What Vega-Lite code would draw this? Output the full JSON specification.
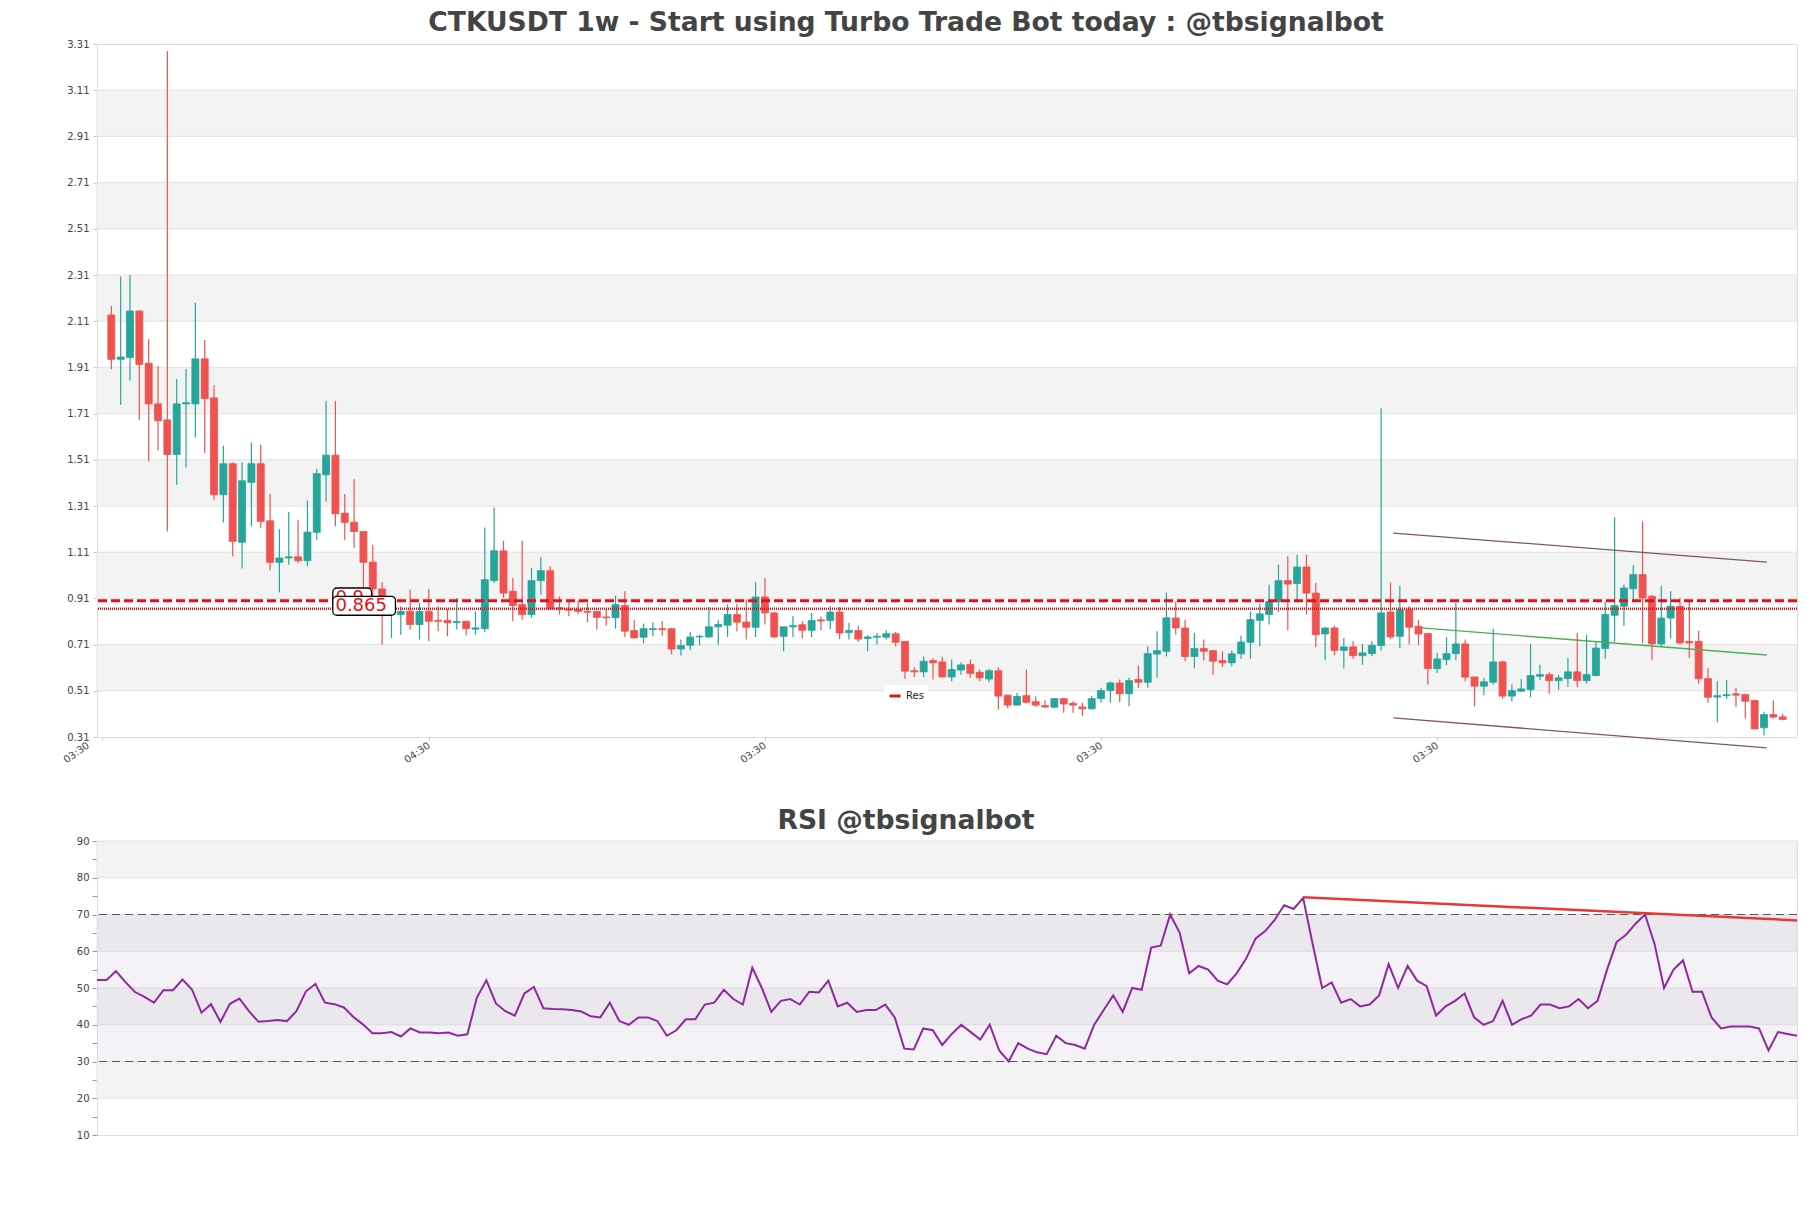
{
  "$schema": "https://vega.github.io/schema/vega-lite/v6.json",
  "background": "white",
  "padding": {"left": 60, "top": 9, "right": 14, "bottom": 5},
  "bounds": "flush",
  "spacing": 104,
  "config": {
    "view": {"stroke": "#dddddd", "strokeWidth": 1},
    "axis": {"labelFont": "DejaVu Sans", "labelColor": "#444444", "domain": false, "grid": false}
  },
  "datasets": {
    "candles": [
      {"i":0,"o":2.137,"h":2.176,"l":1.902,"c":1.945},
      {"i":1,"o":1.945,"h":2.303,"l":1.748,"c":1.955},
      {"i":2,"o":1.953,"h":2.31,"l":1.853,"c":2.154},
      {"i":3,"o":2.154,"h":2.158,"l":1.683,"c":1.922},
      {"i":4,"o":1.928,"h":2.032,"l":1.503,"c":1.752},
      {"i":5,"o":1.752,"h":1.916,"l":1.55,"c":1.679},
      {"i":6,"o":1.683,"h":3.279,"l":1.2,"c":1.533},
      {"i":7,"o":1.533,"h":1.86,"l":1.402,"c":1.752},
      {"i":8,"o":1.752,"h":1.903,"l":1.477,"c":1.757},
      {"i":9,"o":1.752,"h":2.19,"l":1.607,"c":1.947},
      {"i":10,"o":1.947,"h":2.029,"l":1.539,"c":1.775},
      {"i":11,"o":1.778,"h":1.834,"l":1.337,"c":1.359},
      {"i":12,"o":1.359,"h":1.571,"l":1.239,"c":1.493},
      {"i":13,"o":1.493,"h":1.498,"l":1.092,"c":1.157},
      {"i":14,"o":1.153,"h":1.498,"l":1.039,"c":1.419},
      {"i":15,"o":1.412,"h":1.585,"l":1.222,"c":1.493},
      {"i":16,"o":1.493,"h":1.575,"l":1.214,"c":1.243},
      {"i":17,"o":1.246,"h":1.362,"l":1.031,"c":1.066},
      {"i":18,"o":1.066,"h":1.21,"l":0.936,"c":1.085},
      {"i":19,"o":1.085,"h":1.284,"l":1.056,"c":1.09},
      {"i":20,"o":1.09,"h":1.251,"l":1.063,"c":1.073},
      {"i":21,"o":1.073,"h":1.333,"l":1.049,"c":1.197},
      {"i":22,"o":1.196,"h":1.471,"l":1.164,"c":1.45},
      {"i":23,"o":1.445,"h":1.765,"l":1.33,"c":1.53},
      {"i":24,"o":1.53,"h":1.765,"l":1.222,"c":1.276},
      {"i":25,"o":1.279,"h":1.362,"l":1.164,"c":1.239},
      {"i":26,"o":1.24,"h":1.426,"l":1.128,"c":1.2},
      {"i":27,"o":1.2,"h":1.2,"l":0.948,"c":1.066},
      {"i":28,"o":1.067,"h":1.142,"l":0.919,"c":0.951},
      {"i":29,"o":0.951,"h":0.981,"l":0.71,"c":0.835},
      {"i":30,"o":0.84,"h":0.876,"l":0.739,"c":0.847},
      {"i":31,"o":0.84,"h":0.876,"l":0.753,"c":0.854},
      {"i":32,"o":0.854,"h":0.948,"l":0.775,"c":0.797},
      {"i":33,"o":0.797,"h":0.89,"l":0.732,"c":0.854},
      {"i":34,"o":0.854,"h":0.951,"l":0.725,"c":0.811},
      {"i":35,"o":0.815,"h":0.876,"l":0.768,"c":0.811},
      {"i":36,"o":0.814,"h":0.864,"l":0.746,"c":0.804},
      {"i":37,"o":0.805,"h":0.912,"l":0.775,"c":0.81},
      {"i":38,"o":0.811,"h":0.811,"l":0.749,"c":0.779},
      {"i":39,"o":0.777,"h":0.854,"l":0.753,"c":0.782},
      {"i":40,"o":0.779,"h":1.217,"l":0.763,"c":0.991},
      {"i":41,"o":0.987,"h":1.304,"l":0.977,"c":1.116},
      {"i":42,"o":1.116,"h":1.16,"l":0.912,"c":0.933},
      {"i":43,"o":0.941,"h":0.998,"l":0.811,"c":0.879},
      {"i":44,"o":0.883,"h":1.16,"l":0.818,"c":0.84},
      {"i":45,"o":0.84,"h":1.042,"l":0.826,"c":0.987},
      {"i":46,"o":0.987,"h":1.089,"l":0.926,"c":1.03},
      {"i":47,"o":1.03,"h":1.049,"l":0.862,"c":0.864},
      {"i":48,"o":0.869,"h":0.919,"l":0.84,"c":0.864},
      {"i":49,"o":0.864,"h":0.905,"l":0.833,"c":0.859},
      {"i":50,"o":0.862,"h":0.902,"l":0.844,"c":0.854},
      {"i":51,"o":0.854,"h":0.89,"l":0.807,"c":0.85},
      {"i":52,"o":0.854,"h":0.854,"l":0.775,"c":0.828},
      {"i":53,"o":0.83,"h":0.864,"l":0.792,"c":0.826},
      {"i":54,"o":0.826,"h":0.922,"l":0.779,"c":0.883},
      {"i":55,"o":0.879,"h":0.941,"l":0.743,"c":0.768},
      {"i":56,"o":0.771,"h":0.818,"l":0.739,"c":0.739},
      {"i":57,"o":0.742,"h":0.801,"l":0.715,"c":0.779},
      {"i":58,"o":0.775,"h":0.807,"l":0.746,"c":0.779},
      {"i":59,"o":0.779,"h":0.811,"l":0.746,"c":0.775},
      {"i":60,"o":0.779,"h":0.782,"l":0.667,"c":0.691},
      {"i":61,"o":0.691,"h":0.732,"l":0.663,"c":0.706},
      {"i":62,"o":0.707,"h":0.764,"l":0.686,"c":0.743},
      {"i":63,"o":0.743,"h":0.753,"l":0.706,"c":0.746},
      {"i":64,"o":0.743,"h":0.873,"l":0.74,"c":0.787},
      {"i":65,"o":0.787,"h":0.818,"l":0.707,"c":0.797},
      {"i":66,"o":0.794,"h":0.883,"l":0.743,"c":0.84},
      {"i":67,"o":0.84,"h":0.887,"l":0.768,"c":0.807},
      {"i":68,"o":0.808,"h":0.905,"l":0.732,"c":0.785},
      {"i":69,"o":0.785,"h":0.981,"l":0.743,"c":0.916},
      {"i":70,"o":0.916,"h":0.998,"l":0.797,"c":0.847},
      {"i":71,"o":0.847,"h":0.851,"l":0.739,"c":0.743},
      {"i":72,"o":0.746,"h":0.787,"l":0.681,"c":0.787},
      {"i":73,"o":0.787,"h":0.833,"l":0.743,"c":0.792},
      {"i":74,"o":0.796,"h":0.811,"l":0.736,"c":0.772},
      {"i":75,"o":0.772,"h":0.847,"l":0.743,"c":0.814},
      {"i":76,"o":0.817,"h":0.832,"l":0.772,"c":0.812},
      {"i":77,"o":0.814,"h":0.876,"l":0.778,"c":0.851},
      {"i":78,"o":0.851,"h":0.873,"l":0.734,"c":0.76},
      {"i":79,"o":0.762,"h":0.804,"l":0.732,"c":0.771},
      {"i":80,"o":0.771,"h":0.792,"l":0.721,"c":0.734},
      {"i":81,"o":0.736,"h":0.749,"l":0.681,"c":0.743},
      {"i":82,"o":0.742,"h":0.76,"l":0.71,"c":0.746},
      {"i":83,"o":0.742,"h":0.771,"l":0.732,"c":0.757},
      {"i":84,"o":0.757,"h":0.765,"l":0.703,"c":0.72},
      {"i":85,"o":0.724,"h":0.724,"l":0.561,"c":0.595},
      {"i":86,"o":0.597,"h":0.612,"l":0.57,"c":0.592},
      {"i":87,"o":0.592,"h":0.659,"l":0.57,"c":0.638},
      {"i":88,"o":0.641,"h":0.652,"l":0.559,"c":0.631},
      {"i":89,"o":0.635,"h":0.657,"l":0.566,"c":0.57},
      {"i":90,"o":0.57,"h":0.645,"l":0.551,"c":0.602},
      {"i":91,"o":0.6,"h":0.634,"l":0.58,"c":0.622},
      {"i":92,"o":0.624,"h":0.645,"l":0.566,"c":0.585},
      {"i":93,"o":0.59,"h":0.602,"l":0.551,"c":0.566},
      {"i":94,"o":0.561,"h":0.605,"l":0.547,"c":0.597},
      {"i":95,"o":0.597,"h":0.612,"l":0.429,"c":0.487},
      {"i":96,"o":0.491,"h":0.494,"l":0.436,"c":0.448},
      {"i":97,"o":0.448,"h":0.501,"l":0.446,"c":0.486},
      {"i":98,"o":0.489,"h":0.602,"l":0.455,"c":0.46},
      {"i":99,"o":0.463,"h":0.486,"l":0.44,"c":0.448},
      {"i":100,"o":0.446,"h":0.469,"l":0.436,"c":0.44},
      {"i":101,"o":0.439,"h":0.479,"l":0.436,"c":0.476},
      {"i":102,"o":0.476,"h":0.479,"l":0.415,"c":0.453},
      {"i":103,"o":0.456,"h":0.465,"l":0.415,"c":0.448},
      {"i":104,"o":0.44,"h":0.458,"l":0.4,"c":0.432},
      {"i":105,"o":0.432,"h":0.489,"l":0.429,"c":0.476},
      {"i":106,"o":0.476,"h":0.523,"l":0.458,"c":0.511},
      {"i":107,"o":0.511,"h":0.551,"l":0.458,"c":0.544},
      {"i":108,"o":0.544,"h":0.559,"l":0.461,"c":0.497},
      {"i":109,"o":0.497,"h":0.566,"l":0.443,"c":0.554},
      {"i":110,"o":0.559,"h":0.619,"l":0.523,"c":0.547},
      {"i":111,"o":0.547,"h":0.703,"l":0.523,"c":0.671},
      {"i":112,"o":0.669,"h":0.768,"l":0.566,"c":0.684},
      {"i":113,"o":0.681,"h":0.936,"l":0.659,"c":0.826},
      {"i":114,"o":0.825,"h":0.897,"l":0.753,"c":0.782},
      {"i":115,"o":0.782,"h":0.818,"l":0.638,"c":0.658},
      {"i":116,"o":0.659,"h":0.76,"l":0.607,"c":0.693},
      {"i":117,"o":0.693,"h":0.732,"l":0.641,"c":0.681},
      {"i":118,"o":0.684,"h":0.684,"l":0.58,"c":0.638},
      {"i":119,"o":0.641,"h":0.681,"l":0.613,"c":0.631},
      {"i":120,"o":0.631,"h":0.684,"l":0.616,"c":0.67},
      {"i":121,"o":0.67,"h":0.749,"l":0.648,"c":0.721},
      {"i":122,"o":0.72,"h":0.854,"l":0.649,"c":0.818},
      {"i":123,"o":0.815,"h":0.887,"l":0.703,"c":0.843},
      {"i":124,"o":0.84,"h":0.969,"l":0.797,"c":0.897},
      {"i":125,"o":0.895,"h":1.056,"l":0.851,"c":0.987},
      {"i":126,"o":0.987,"h":1.092,"l":0.772,"c":0.972},
      {"i":127,"o":0.974,"h":1.099,"l":0.893,"c":1.046},
      {"i":128,"o":1.046,"h":1.099,"l":0.84,"c":0.933},
      {"i":129,"o":0.933,"h":0.977,"l":0.698,"c":0.753},
      {"i":130,"o":0.756,"h":0.785,"l":0.642,"c":0.782},
      {"i":131,"o":0.782,"h":0.792,"l":0.664,"c":0.685},
      {"i":132,"o":0.685,"h":0.739,"l":0.606,"c":0.7},
      {"i":133,"o":0.7,"h":0.725,"l":0.648,"c":0.662},
      {"i":134,"o":0.662,"h":0.713,"l":0.623,"c":0.674},
      {"i":135,"o":0.671,"h":0.725,"l":0.66,"c":0.707},
      {"i":136,"o":0.706,"h":1.733,"l":0.685,"c":0.847},
      {"i":137,"o":0.851,"h":0.979,"l":0.734,"c":0.743},
      {"i":138,"o":0.746,"h":0.965,"l":0.695,"c":0.861},
      {"i":139,"o":0.861,"h":0.876,"l":0.71,"c":0.785},
      {"i":140,"o":0.789,"h":0.818,"l":0.707,"c":0.756},
      {"i":141,"o":0.758,"h":0.76,"l":0.537,"c":0.606},
      {"i":142,"o":0.606,"h":0.674,"l":0.587,"c":0.648},
      {"i":143,"o":0.645,"h":0.742,"l":0.621,"c":0.671},
      {"i":144,"o":0.671,"h":0.89,"l":0.642,"c":0.713},
      {"i":145,"o":0.713,"h":0.732,"l":0.551,"c":0.569},
      {"i":146,"o":0.57,"h":0.57,"l":0.443,"c":0.53},
      {"i":147,"o":0.53,"h":0.566,"l":0.491,"c":0.549},
      {"i":148,"o":0.547,"h":0.779,"l":0.537,"c":0.635},
      {"i":149,"o":0.635,"h":0.641,"l":0.476,"c":0.487},
      {"i":150,"o":0.487,"h":0.537,"l":0.465,"c":0.511},
      {"i":151,"o":0.508,"h":0.561,"l":0.508,"c":0.518},
      {"i":152,"o":0.515,"h":0.713,"l":0.482,"c":0.576},
      {"i":153,"o":0.573,"h":0.623,"l":0.556,"c":0.58},
      {"i":154,"o":0.58,"h":0.59,"l":0.497,"c":0.554},
      {"i":155,"o":0.554,"h":0.58,"l":0.515,"c":0.566},
      {"i":156,"o":0.563,"h":0.652,"l":0.527,"c":0.592},
      {"i":157,"o":0.592,"h":0.76,"l":0.526,"c":0.554},
      {"i":158,"o":0.554,"h":0.753,"l":0.541,"c":0.58},
      {"i":159,"o":0.576,"h":0.724,"l":0.573,"c":0.695},
      {"i":160,"o":0.693,"h":0.897,"l":0.649,"c":0.84},
      {"i":161,"o":0.837,"h":1.261,"l":0.722,"c":0.879},
      {"i":162,"o":0.876,"h":0.969,"l":0.792,"c":0.955},
      {"i":163,"o":0.952,"h":1.053,"l":0.897,"c":1.013},
      {"i":164,"o":1.013,"h":1.243,"l":0.717,"c":0.912},
      {"i":165,"o":0.919,"h":0.926,"l":0.642,"c":0.713},
      {"i":166,"o":0.713,"h":0.965,"l":0.703,"c":0.825},
      {"i":167,"o":0.825,"h":0.941,"l":0.736,"c":0.876},
      {"i":168,"o":0.876,"h":0.912,"l":0.71,"c":0.717},
      {"i":169,"o":0.724,"h":0.895,"l":0.652,"c":0.717},
      {"i":170,"o":0.724,"h":0.77,"l":0.541,"c":0.562},
      {"i":171,"o":0.563,"h":0.609,"l":0.458,"c":0.482},
      {"i":172,"o":0.483,"h":0.551,"l":0.374,"c":0.489},
      {"i":173,"o":0.489,"h":0.556,"l":0.476,"c":0.493},
      {"i":174,"o":0.497,"h":0.523,"l":0.44,"c":0.491},
      {"i":175,"o":0.494,"h":0.494,"l":0.39,"c":0.465},
      {"i":176,"o":0.468,"h":0.472,"l":0.342,"c":0.345},
      {"i":177,"o":0.35,"h":0.419,"l":0.316,"c":0.407},
      {"i":178,"o":0.407,"h":0.468,"l":0.39,"c":0.396},
      {"i":179,"o":0.397,"h":0.411,"l":0.383,"c":0.386}
    ],
    "rsi": [
      {"i":0,"r":52.2},{"i":1,"r":52.2},{"i":2,"r":54.6},{"i":3,"r":51.6},{"i":4,"r":48.9},
      {"i":5,"r":47.6},{"i":6,"r":46.0},{"i":7,"r":49.4},{"i":8,"r":49.4},{"i":9,"r":52.3},
      {"i":10,"r":49.6},{"i":11,"r":43.3},{"i":12,"r":45.6},{"i":13,"r":40.8},{"i":14,"r":45.7},
      {"i":15,"r":47.1},{"i":16,"r":43.7},{"i":17,"r":40.8},{"i":18,"r":41.0},{"i":19,"r":41.3},
      {"i":20,"r":41.0},{"i":21,"r":43.7},{"i":22,"r":49.1},{"i":23,"r":51.1},{"i":24,"r":46.0},
      {"i":25,"r":45.6},{"i":26,"r":44.7},{"i":27,"r":42.1},{"i":28,"r":40.1},{"i":29,"r":37.7},
      {"i":30,"r":37.7},{"i":31,"r":38.0},{"i":32,"r":36.8},{"i":33,"r":39.0},{"i":34,"r":37.9},
      {"i":35,"r":37.9},{"i":36,"r":37.7},{"i":37,"r":37.9},{"i":38,"r":37.0},{"i":39,"r":37.4},
      {"i":40,"r":47.4},{"i":41,"r":52.1},{"i":42,"r":45.8},{"i":43,"r":43.7},{"i":44,"r":42.5},
      {"i":45,"r":48.5},{"i":46,"r":50.3},{"i":47,"r":44.5},{"i":48,"r":44.3},{"i":49,"r":44.2},
      {"i":50,"r":44.0},{"i":51,"r":43.6},{"i":52,"r":42.3},{"i":53,"r":42.0},{"i":54,"r":46.0},
      {"i":55,"r":41.0},{"i":56,"r":40.0},{"i":57,"r":42.0},{"i":58,"r":42.0},{"i":59,"r":41.0},
      {"i":60,"r":37.0},{"i":61,"r":38.5},{"i":62,"r":41.5},{"i":63,"r":41.5},{"i":64,"r":45.5},
      {"i":65,"r":46.0},{"i":66,"r":49.5},{"i":67,"r":47.0},{"i":68,"r":45.5},{"i":69,"r":55.5},
      {"i":70,"r":50.0},{"i":71,"r":43.5},{"i":72,"r":46.5},{"i":73,"r":47.0},{"i":74,"r":45.5},
      {"i":75,"r":49.0},{"i":76,"r":48.8},{"i":77,"r":52.0},{"i":78,"r":45.0},{"i":79,"r":46.0},
      {"i":80,"r":43.5},{"i":81,"r":44.0},{"i":82,"r":44.0},{"i":83,"r":45.5},{"i":84,"r":42.0},
      {"i":85,"r":33.5},{"i":86,"r":33.3},{"i":87,"r":39.0},{"i":88,"r":38.5},{"i":89,"r":34.5},
      {"i":90,"r":37.5},{"i":91,"r":40.0},{"i":92,"r":38.0},{"i":93,"r":36.0},{"i":94,"r":40.0},
      {"i":95,"r":33.0},{"i":96,"r":30.0},{"i":97,"r":35.0},{"i":98,"r":33.5},{"i":99,"r":32.5},
      {"i":100,"r":32.0},{"i":101,"r":37.0},{"i":102,"r":35.0},{"i":103,"r":34.5},{"i":104,"r":33.5},
      {"i":105,"r":40.0},{"i":106,"r":44.0},{"i":107,"r":48.0},{"i":108,"r":43.5},{"i":109,"r":50.0},
      {"i":110,"r":49.5},{"i":111,"r":61.0},{"i":112,"r":61.5},{"i":113,"r":70.0},{"i":114,"r":65.0},
      {"i":115,"r":54.0},{"i":116,"r":56.0},{"i":117,"r":55.0},{"i":118,"r":52.0},{"i":119,"r":51.0},
      {"i":120,"r":54.0},{"i":121,"r":58.0},{"i":122,"r":63.5},{"i":123,"r":65.5},{"i":124,"r":68.5},
      {"i":125,"r":72.5},{"i":126,"r":71.5},{"i":127,"r":74.5},{"i":128,"r":62.0},{"i":129,"r":50.0},
      {"i":130,"r":51.5},{"i":131,"r":46.0},{"i":132,"r":47.0},{"i":133,"r":45.0},{"i":134,"r":45.5},
      {"i":135,"r":48.0},{"i":136,"r":56.5},{"i":137,"r":50.0},{"i":138,"r":56.0},{"i":139,"r":52.0},
      {"i":140,"r":50.5},{"i":141,"r":42.5},{"i":142,"r":45.0},{"i":143,"r":46.5},{"i":144,"r":48.5},
      {"i":145,"r":42.0},{"i":146,"r":40.0},{"i":147,"r":41.0},{"i":148,"r":46.5},{"i":149,"r":40.0},
      {"i":150,"r":41.5},{"i":151,"r":42.5},{"i":152,"r":45.5},{"i":153,"r":45.5},{"i":154,"r":44.5},
      {"i":155,"r":45.0},{"i":156,"r":47.0},{"i":157,"r":44.5},{"i":158,"r":46.5},{"i":159,"r":55.0},
      {"i":160,"r":62.5},{"i":161,"r":64.5},{"i":162,"r":67.5},{"i":163,"r":70.0},{"i":164,"r":62.0},
      {"i":165,"r":50.0},{"i":166,"r":55.0},{"i":167,"r":57.5},{"i":168,"r":49.0},{"i":169,"r":49.0},
      {"i":170,"r":42.0},{"i":171,"r":39.0},{"i":172,"r":39.5},{"i":173,"r":39.5},{"i":174,"r":39.5},
      {"i":175,"r":39.0},{"i":176,"r":33.0},{"i":177,"r":38.0},{"i":178,"r":37.5},{"i":179,"r":37.0}
    ]
  },
  "vconcat": [
    {
      "width": 1700,
      "height": 693,
      "title": {"text": "CTKUSDT 1w - Start using Turbo Trade Bot today : @tbsignalbot", "font": "DejaVu Sans", "fontSize": 26.6, "fontWeight": "bold", "color": "#444444", "anchor": "middle", "frame": "group", "dx": -41, "offset": 2},
      "layer": [
        {
          "data": {"values": [{"b1":2.91,"b2":3.11},{"b1":2.51,"b2":2.71},{"b1":2.11,"b2":2.31},{"b1":1.71,"b2":1.91},{"b1":1.31,"b2":1.51},{"b1":0.91,"b2":1.11},{"b1":0.51,"b2":0.71}]},
          "mark": {"type": "rect", "fill": "#f3f3f3", "stroke": "#e2e2e2", "strokeWidth": 1},
          "encoding": {
            "y": {"field": "b1", "type": "quantitative", "title": null,
                  "scale": {"domain": [0.31, 3.31], "nice": false, "zero": false},
                  "axis": {"values": [0.31,0.51,0.71,0.91,1.11,1.31,1.51,1.71,1.91,2.11,2.31,2.51,2.71,2.91,3.11,3.31], "tickCount": 30, "format": ".2f", "labelFontSize": 10, "tickSize": 4, "tickColor": "#cccccc", "labelPadding": 4, "labelOverlap": false}},
            "y2": {"field": "b2"}
          }
        },
        {
          "data": {"name": "candles"},
          "mark": {"type": "rule", "strokeWidth": 1.2},
          "encoding": {
            "x": {"field": "i", "type": "quantitative", "title": null,
                  "scale": {"domain": [-1, 180], "nice": false, "zero": false},
                  "axis": {"values": [-1, 34, 70, 106, 142], "tickCount": 20, "labelExpr": "datum.value == 34 ? '04:30' : '03:30'", "labelAngle": -35, "labelAlign": "right", "labelBaseline": "top", "labelFontSize": 10, "tickSize": 3, "tickColor": "#cccccc", "labelPadding": 0, "labelOverlap": false, "labelBound": false, "labelFlush": false,
                           "labelOffset": {"condition": {"test": "datum.value < 0", "value": -17}, "value": -3}}},
            "y": {"field": "l", "type": "quantitative", "title": null},
            "y2": {"field": "h"},
            "color": {"condition": {"test": "datum.c >= datum.o", "value": "#26a69a"}, "value": "#ef5350"}
          }
        },
        {
          "data": {"name": "candles"},
          "mark": {"type": "bar", "size": 7, "strokeWidth": 0.8},
          "encoding": {
            "x": {"field": "i", "type": "quantitative", "title": null},
            "y": {"field": "o", "type": "quantitative", "title": null},
            "y2": {"field": "c"},
            "color": {"condition": {"test": "datum.c >= datum.o", "value": "#26a69a"}, "value": "#ef5350"},
            "stroke": {"condition": {"test": "datum.c >= datum.o", "value": "#26a69a"}, "value": "#ef5350"}
          }
        },
        {
          "data": {"values": [{"lv": 0.9, "name": "Res"}]},
          "mark": {"type": "rule", "strokeWidth": 3, "strokeDash": [9, 4]},
          "encoding": {
            "y": {"field": "lv", "type": "quantitative", "title": null},
            "color": {"field": "name", "type": "nominal", "scale": {"range": ["#e3101a"]},
                      "legend": {"title": null, "orient": "none", "legendX": 787, "legendY": 641, "symbolType": "stroke", "symbolStrokeWidth": 3, "symbolSize": 120, "labelFont": "DejaVu Sans", "labelFontSize": 10, "labelColor": "#222222", "fillColor": "white", "padding": 4}}
          }
        },
        {
          "data": {"values": [{"lv": 0.865}]},
          "mark": {"type": "rule", "strokeWidth": 2.5, "strokeDash": [1, 1], "color": "#e3101a"},
          "encoding": {"y": {"field": "lv", "type": "quantitative", "title": null}}
        },
        {
          "data": {"values": [
            {"g": "up", "x": 137.3, "y": 1.193}, {"g": "up", "x": 177.3, "y": 1.067},
            {"g": "lo", "x": 137.3, "y": 0.393}, {"g": "lo", "x": 177.3, "y": 0.263},
            {"g": "mid", "x": 140.3, "y": 0.782}, {"g": "mid", "x": 177.3, "y": 0.665}
          ]},
          "mark": {"type": "line", "strokeWidth": 1.3},
          "encoding": {
            "x": {"field": "x", "type": "quantitative", "title": null},
            "y": {"field": "y", "type": "quantitative", "title": null},
            "detail": {"field": "g"},
            "stroke": {"field": "g", "type": "nominal", "scale": {"domain": ["up", "lo", "mid"], "range": ["#825566", "#825566", "#4caf50"]}, "legend": null}
          }
        },
        {
          "data": {"values": [{"x1": 23.72, "x2": 27.87, "y1": 0.955, "y2": 0.862}]},
          "mark": {"type": "rect", "fill": "white", "stroke": "black", "strokeWidth": 1.3, "cornerRadius": 4},
          "encoding": {
            "x": {"field": "x1", "type": "quantitative", "title": null}, "x2": {"field": "x2"},
            "y": {"field": "y1", "type": "quantitative", "title": null}, "y2": {"field": "y2"}
          }
        },
        {
          "data": {"values": [{"x": 24.0, "y": 0.892, "t": "0.9"}]},
          "mark": {"type": "text", "align": "left", "baseline": "alphabetic", "font": "DejaVu Sans", "fontSize": 18, "color": "#e3101a"},
          "encoding": {
            "x": {"field": "x", "type": "quantitative", "title": null},
            "y": {"field": "y", "type": "quantitative", "title": null},
            "text": {"field": "t"}
          }
        },
        {
          "data": {"values": [{"x1": 23.72, "x2": 30.43, "y1": 0.919, "y2": 0.837}]},
          "mark": {"type": "rect", "fill": "white", "stroke": "black", "strokeWidth": 1.3, "cornerRadius": 4},
          "encoding": {
            "x": {"field": "x1", "type": "quantitative", "title": null}, "x2": {"field": "x2"},
            "y": {"field": "y1", "type": "quantitative", "title": null}, "y2": {"field": "y2"}
          }
        },
        {
          "data": {"values": [{"x": 24.0, "y": 0.854, "t": "0.865"}]},
          "mark": {"type": "text", "align": "left", "baseline": "alphabetic", "font": "DejaVu Sans", "fontSize": 18, "color": "#e3101a"},
          "encoding": {
            "x": {"field": "x", "type": "quantitative", "title": null},
            "y": {"field": "y", "type": "quantitative", "title": null},
            "text": {"field": "t"}
          }
        }
      ]
    },
    {
      "width": 1700,
      "height": 294,
      "title": {"text": "RSI @tbsignalbot", "font": "DejaVu Sans", "fontSize": 26.6, "fontWeight": "bold", "color": "#444444", "anchor": "middle", "frame": "group", "dx": -41, "offset": 1},
      "layer": [
        {
          "data": {"values": [{"b1":80,"b2":90},{"b1":60,"b2":70},{"b1":40,"b2":50},{"b1":20,"b2":30}]},
          "mark": {"type": "rect", "fill": "#f3f3f3", "stroke": "#e2e2e2", "strokeWidth": 1},
          "encoding": {
            "y": {"field": "b1", "type": "quantitative", "title": null,
                  "scale": {"domain": [10, 90], "nice": false, "zero": false},
                  "axis": {"values": [10,15,20,25,30,35,40,45,50,55,60,65,70,75,80,85,90], "tickCount": 40, "labelExpr": "datum.value % 10 == 0 ? datum.label : ''", "labelFontSize": 10, "tickSize": 5, "tickColor": "#999999", "labelPadding": 3, "labelOverlap": false}},
            "y2": {"field": "b2"}
          }
        },
        {
          "data": {"values": [{"b1": 30, "b2": 70}]},
          "mark": {"type": "rect", "fill": "#c8b8d8", "opacity": 0.2},
          "encoding": {
            "y": {"field": "b1", "type": "quantitative", "title": null},
            "y2": {"field": "b2"}
          }
        },
        {
          "data": {"values": [{"lv": 70}, {"lv": 30}]},
          "mark": {"type": "rule", "strokeWidth": 1.2, "strokeDash": [8, 5], "color": "#555555"},
          "encoding": {"y": {"field": "lv", "type": "quantitative", "title": null}}
        },
        {
          "data": {"name": "rsi"},
          "mark": {"type": "line", "strokeWidth": 2, "color": "#8e2a9e"},
          "encoding": {
            "x": {"field": "i", "type": "quantitative", "title": null, "scale": {"domain": [0, 179], "nice": false, "zero": false}, "axis": null},
            "y": {"field": "r", "type": "quantitative", "title": null}
          }
        },
        {
          "data": {"values": [{"i": 127, "r": 74.7}, {"i": 179, "r": 68.4}]},
          "mark": {"type": "line", "strokeWidth": 2.5, "color": "#e53935"},
          "encoding": {
            "x": {"field": "i", "type": "quantitative", "title": null},
            "y": {"field": "r", "type": "quantitative", "title": null}
          }
        }
      ]
    }
  ]
}
